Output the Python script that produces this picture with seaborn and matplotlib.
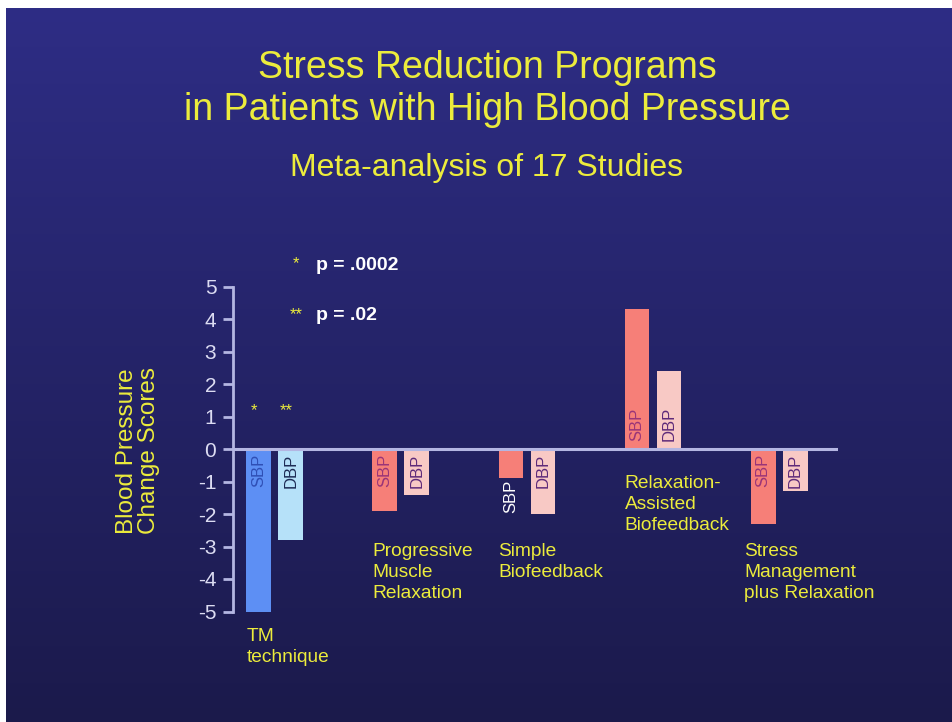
import numpy as np
import pandas as pd
import matplotlib
matplotlib.use("Agg")
import matplotlib.pyplot as plt
import seaborn as sns

# Data
programs = ["TM", "PMR", "SB", "RAB", "SMR"]
program_labels = [
    "TM\ntechnique",
    "Progressive\nMuscle\nRelaxation",
    "Simple\nBiofeedback",
    "Relaxation-\nAssisted\nBiofeedback",
    "Stress\nManagement\nplus Relaxation",
]
measures = ["SBP", "DBP"]
sbp_change = [-5.0, -1.9, -0.9, 4.3, -2.3]
dbp_change = [-2.8, -1.4, -2.0, 2.4, -1.3]
y_ticks = [5, 4, 3, 2, 1, 0, -1, -2, -3, -4, -5]
sig_marks = ["*", "**"]
sig_labels = ["p = .0002", "p = .02"]

df = pd.DataFrame({
    "program": programs * 2,
    "measure": ["SBP"] * len(programs) + ["DBP"] * len(programs),
    "value": sbp_change + dbp_change,
})

# Colours
YELLOW = "#ecec3c"
AXIS_COL = "#b4b6e2"
TICK_TXT = "#dcdcf2"
SBP_COL = "#f67f78"
DBP_COL = "#f8c9c5"
TM_COLS = {"SBP": "#5d8ff4", "DBP": "#b6e1f9"}
IN_TXT = {"SBP": "#9a3579", "DBP": "#5e2a7a"}
TM_IN_TXT = {"SBP": "#2f4fb5", "DBP": "#1d2b55"}

sns.set_style("ticks")
plt.rcParams["font.family"] = ["Liberation Sans", "DejaVu Sans"]
plt.rcParams["axes.unicode_minus"] = False

W, H = 953, 722
fig = plt.figure(figsize=(W / 100, H / 100), dpi=100)
fig.patch.set_facecolor("white")

# slide background gradient
bg = fig.add_axes([6 / W, 0, 1 - 6 / W, 1 - 8 / H], zorder=-2)
top = np.array([0x2e, 0x2d, 0x85]) / 255
bot = np.array([0x1b, 0x1a, 0x4b]) / 255
t = np.linspace(0, 1, 256)[:, None]
grad = (top[None, :] * (1 - t) + bot[None, :] * t)[:, None, :]
bg.imshow(grad, aspect="auto", extent=[0, 1, 0, 1])
bg.set_axis_off()

# main axes placed to match slide pixel layout
px_per_unit = 32.5
y_top_px, y_bot_px = 449 - 5.5 * px_per_unit, 449 + 5.5 * px_per_unit
ax = fig.add_axes([233 / W, 1 - y_bot_px / H, (838 - 233) / W, (y_bot_px - y_top_px) / H])
ax.set_facecolor("none")

sns.barplot(
    data=df, x="program", y="value", hue="measure", order=programs,
    hue_order=measures, palette={"SBP": SBP_COL, "DBP": DBP_COL},
    width=0.508, gap=0.22, legend=False, ax=ax, zorder=3,
    saturation=1, linewidth=0, edgecolor="none",
)

ax.set_xlim(-0.333, 4.468)
ax.set_ylim(-5.5, 5.5)

# TM bars are blue on the slide
for container, m in zip(ax.containers, measures):
    container[0].set_facecolor(TM_COLS[m])

ax.axhline(0, color=AXIS_COL, lw=2.2, zorder=4)

# labels inside bars
for container, m in zip(ax.containers, measures):
    for i, (bar, val) in enumerate(zip(container, container.datavalues)):
        xc = bar.get_x() + bar.get_width() / 2
        col = TM_IN_TXT[m] if i == 0 else IN_TXT[m]
        if val > 0:
            ax.text(xc, 0.25, m, rotation=90, ha="center", va="bottom",
                    fontsize=12, color=col, zorder=5)
        elif abs(val) < 1.2:
            ax.text(xc, val - 0.05, m, rotation=90, ha="center", va="top",
                    fontsize=12, color="white", zorder=5)
        else:
            ax.text(xc, -0.15, m, rotation=90, ha="center", va="top",
                    fontsize=12, color=col, zorder=5)

# significance stars above TM bars
for container, mark in zip(ax.containers, sig_marks):
    bar = container[0]
    ax.text(bar.get_x() + bar.get_width() / 2 - 0.04, 0.95, mark, ha="center",
            va="bottom", fontsize=12, color=YELLOW, zorder=5)

# key for the stars
for k, (mark, lab) in enumerate(zip(sig_marks, sig_labels)):
    yk = 5.65 - k * 1.55
    ax.text(0.17, yk + 0.05, mark, ha="center", va="center", fontsize=12,
            color=YELLOW, clip_on=False)
    ax.text(0.325, yk, lab, ha="left", va="center", fontsize=14,
            fontweight="bold", color="white", clip_on=False)

# program names under / beside the bars
label_y = {"TM": -5.5, "PMR": -2.9, "SB": -2.9, "RAB": -0.8, "SMR": -2.9}
for i, (p, lab) in enumerate(zip(programs, program_labels)):
    x_left = ax.containers[0][i].get_x()
    if p == "SMR":
        x_left -= 0.05
    ax.text(x_left, label_y[p], lab, ha="left", va="top", fontsize=13.8,
            color=YELLOW, linespacing=1.3, clip_on=False)

# axis styling
sns.despine(ax=ax, bottom=True, right=True, top=True)
ax.spines["left"].set_bounds(-5, 5)
ax.spines["left"].set_color(AXIS_COL)
ax.spines["left"].set_linewidth(2)
ax.set_yticks(y_ticks)
ax.set_yticklabels([str(v) for v in y_ticks])
ax.tick_params(axis="y", colors=AXIS_COL, length=7, width=2, labelsize=15,
               labelcolor=TICK_TXT, pad=5)
ax.set_xticks([])
ax.set_xlabel("")
ax.set_ylabel("")

fig.text(138 / W, 1 - 451 / H, "Blood Pressure\nChange Scores", rotation=90,
         ha="center", va="center", fontsize=17.5, color=YELLOW, linespacing=1.05)

# titles
fig.text(487 / W, 1 - 68 / H, "Stress Reduction Programs", ha="center",
         va="center", fontsize=27, color=YELLOW)
fig.text(487 / W, 1 - 110 / H, "in Patients with High Blood Pressure",
         ha="center", va="center", fontsize=27, color=YELLOW)
fig.text(487 / W, 1 - 168 / H, "Meta-analysis of 17 Studies", ha="center",
         va="center", fontsize=23, color=YELLOW)

fig.savefig("out.png", dpi=100)
